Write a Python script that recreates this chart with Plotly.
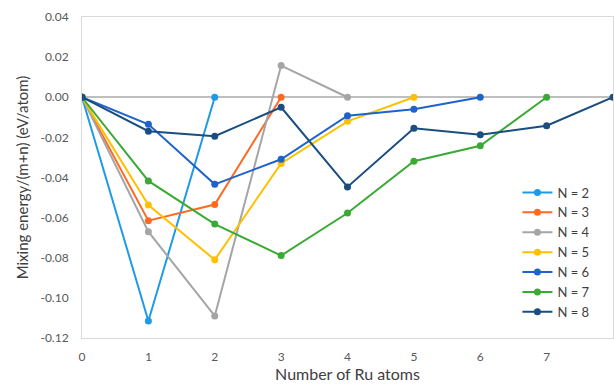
import plotly.graph_objects as go

names = ["N = 2", "N = 3", "N = 4", "N = 5", "N = 6", "N = 7", "N = 8"]
colors = ["#1E9BE6", "#FF6A21", "#A5A5A5", "#FFC000", "#1F62CC", "#3AAA35", "#1A4D80"]

n2 = [0, -0.1115, 0]
n3 = [0, -0.0615, -0.0535, 0]
n4 = [0, -0.067, -0.109, 0.0158, 0]
n5 = [0, -0.0537, -0.081, -0.033, -0.012, 0]
n6 = [0, -0.0135, -0.0434, -0.0309, -0.0092, -0.006, 0]
n7 = [0, -0.0417, -0.0632, -0.0789, -0.0577, -0.0319, -0.0242, 0]
n8 = [0, -0.0169, -0.0194, -0.005, -0.0447, -0.0155, -0.0187, -0.0142, 0]
series = [n2, n3, n4, n5, n6, n7, n8]

x_ticks = [0, 1, 2, 3, 4, 5, 6, 7, 8]
y_ticks = [0.04, 0.02, 0.00, -0.02, -0.04, -0.06, -0.08, -0.10, -0.12]

fig = go.Figure()
for name, col, ys in zip(names, colors, series):
    fig.add_trace(go.Scatter(
        x=list(range(len(ys))), y=ys, name=name, mode="lines+markers",
        line=dict(color=col, width=2), marker=dict(color=col, size=7),
    ))

font = "Lato, 'Open Sans', sans-serif"
fig.update_layout(
    width=614, height=388,
    margin=dict(l=82, r=1, t=17, b=50, autoexpand=False),
    paper_bgcolor="white", plot_bgcolor="white",
    font=dict(family=font, color="#595959", size=12),
    showlegend=True,
    legend=dict(x=0.82, y=0.50, xanchor="left", yanchor="top",
                font=dict(size=13, color="#404040"), tracegroupgap=0,
                itemwidth=30, bgcolor="rgba(0,0,0,0)"),
    xaxis=dict(range=[0, 8], tickvals=x_ticks, ticktext=[str(v) for v in x_ticks],
               showgrid=False, zeroline=False, showline=True, linecolor="#D9D9D9",
               mirror=True, ticks="", ticklabelstandoff=8, automargin=False,
               title=dict(text="Number of Ru atoms", font=dict(size=16, color="#404040"), standoff=4)),
    yaxis=dict(range=[-0.12, 0.04], tickvals=y_ticks,
               ticktext=["%.2f" % v for v in y_ticks],
               showgrid=False, zeroline=True, zerolinecolor="#BFBFBF", zerolinewidth=1.5,
               showline=True, linecolor="#D9D9D9", mirror=True, ticks="", ticklabelstandoff=10,
               automargin=False,
               title=dict(text="Mixing energy/(m+n) (eV/atom)", font=dict(size=15, color="#404040"), standoff=8)),
)

fig.write_html(
    "out.html",
    config={"displayModeBar": False},
    post_script="document.body.style.margin='0';document.body.style.overflow='hidden';",
)
